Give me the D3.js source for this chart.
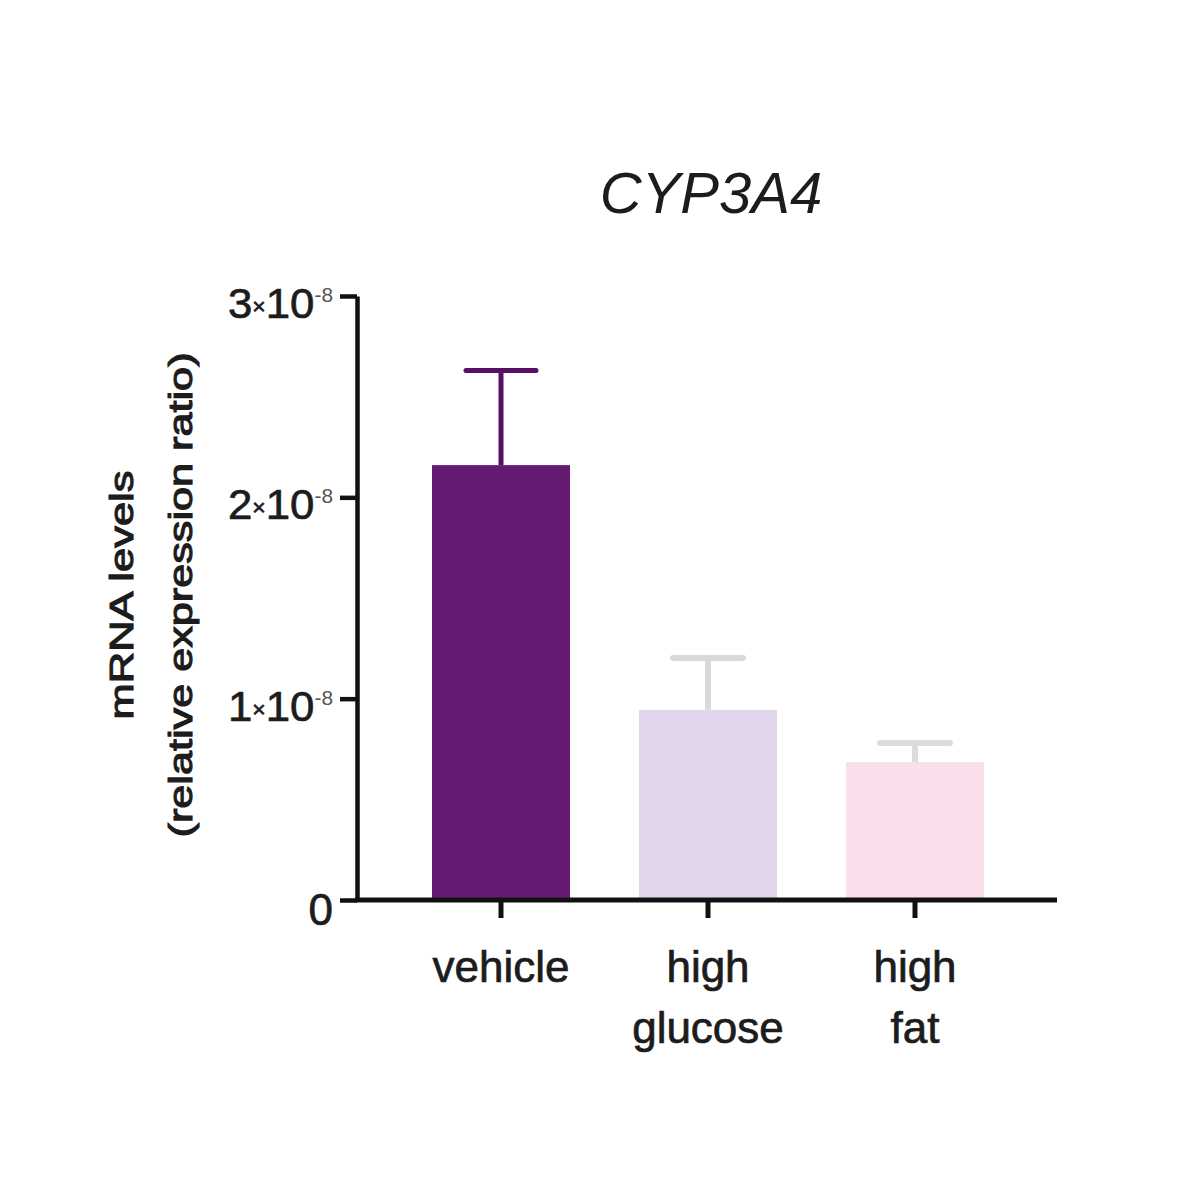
<!DOCTYPE html>
<html>
<head>
<meta charset="utf-8">
<script src="https://cdn.jsdelivr.net/npm/d3@7"></script>
<style>
  html, body { margin: 0; padding: 0; background: #fff; }
  svg { display: block; }
  text { font-family: "Liberation Sans", Arial, sans-serif; fill: #1c1c1c; }
</style>
</head>
<body>
<svg id="chart" width="1200" height="1200"></svg>
<script>
// ---- data ----
const categories = ["vehicle", "high glucose", "high fat"];
const labelLines = [["vehicle"], ["high", "glucose"], ["high", "fat"]];
const means = [2.16e-8, 0.944e-8, 0.685e-8];
const sems = [0.47e-8, 0.258e-8, 0.095e-8];
const barColors = ["#661b73", "#e1d6ec", "#fbdeeb"];
const errColors = ["#561066", "#d9d9d9", "#dcdcdc"];
const yTicks = [0, 1e-8, 2e-8, 3e-8];
const yTickMantissa = ["0", "1", "2", "3"];
const title = "CYP3A4";
const yTitle = ["mRNA levels", "(relative expression ratio)"];

// ---- layout ----
const svg = d3.select("#chart");
const axisLeft = 357, axisRight = 1057, axisTop = 296, axisBottom = 900;

const y = d3.scaleLinear().domain([0, 3e-8]).range([axisBottom, axisTop]);
const x = d3.scaleBand().domain(categories).range([397.5, 1018.5])
  .paddingInner(1/3).paddingOuter(1/6);

// bars
svg.append("g").selectAll("rect").data(categories).join("rect")
  .attr("x", d => x(d))
  .attr("width", x.bandwidth())
  .attr("y", (d, i) => y(means[i]))
  .attr("height", (d, i) => y(0) - y(means[i]))
  .attr("fill", (d, i) => barColors[i]);

// error bars
const eb = svg.append("g");
categories.forEach((c, i) => {
  const cx = x(c) + x.bandwidth() / 2;
  const top = y(means[i] + sems[i]);
  eb.append("line").attr("x1", cx).attr("x2", cx)
    .attr("y1", y(means[i])).attr("y2", top)
    .attr("stroke", errColors[i]).attr("stroke-width", i === 0 ? 5 : 6);
  eb.append("line").attr("x1", cx - 35).attr("x2", cx + 35)
    .attr("y1", top).attr("y2", top)
    .attr("stroke", errColors[i]).attr("stroke-width", i === 0 ? 5 : 6)
    .attr("stroke-linecap", "round");
});

// y axis
const yAxis = d3.axisLeft(y).tickValues(yTicks).tickSize(17).tickSizeOuter(0).tickFormat("");
const gy = svg.append("g").attr("transform", `translate(${axisLeft},0)`).call(yAxis);
gy.select(".domain").attr("stroke", "#111").attr("stroke-width", 4.5);
gy.selectAll(".tick line").attr("stroke", "#111").attr("stroke-width", 4.5);

// y tick labels
yTicks.forEach((v, i) => {
  const t = svg.append("text")
    .attr("x", 333).attr("y", y(v) + 22)
    .attr("text-anchor", "end")
    .attr("stroke", "#1c1c1c").attr("stroke-width", 0.7);
  if (v === 0) {
    t.attr("font-size", 44).text(yTickMantissa[i]).attr("y", y(v) + 25);
  } else {
    t.attr("font-size", 42);
    t.append("tspan").text(yTickMantissa[i]);
    t.append("tspan").attr("font-size", 22).attr("dy", -4).text("×");
    t.append("tspan").attr("dy", 4).text("10");
    t.append("tspan").attr("font-size", 20).attr("dy", -16).attr("fill", "#555").attr("stroke", "none").text("-8");
    t.attr("textLength", 105).attr("lengthAdjust", "spacingAndGlyphs");
  }
});

// x axis
const xAxis = d3.axisBottom(x).tickSize(18).tickSizeOuter(0).tickFormat("");
const gx = svg.append("g").attr("transform", `translate(0,${axisBottom})`).call(xAxis);
gx.select(".domain").remove();
gx.append("line").attr("x1", axisLeft - 2).attr("x2", axisRight).attr("y1", 0).attr("y2", 0)
  .attr("stroke", "#111").attr("stroke-width", 5);
gx.selectAll(".tick line").attr("stroke", "#111").attr("stroke-width", 5);

// x labels
categories.forEach((c, i) => {
  const cx = x(c) + x.bandwidth() / 2;
  labelLines[i].forEach((ln, j) => {
    svg.append("text").attr("x", cx).attr("y", 982 + j * 61)
      .attr("text-anchor", "middle").attr("font-size", 44)
      .attr("stroke", "#1c1c1c").attr("stroke-width", 0.7).text(ln);
  });
});

// title
svg.append("text").attr("x", 711).attr("y", 213)
  .attr("text-anchor", "middle").attr("font-size", 58)
  .attr("font-style", "italic").text(title);

// y axis title
const yCenter = 595;
const ytLens = [249, 485];
const ytX = [133, 192];
yTitle.forEach((ln, j) => {
  svg.append("text")
    .attr("transform", `translate(${ytX[j]},${yCenter}) rotate(-90)`)
    .attr("text-anchor", "middle").attr("font-size", 34)
    .attr("stroke", "#1c1c1c").attr("stroke-width", 1.1)
    .attr("textLength", ytLens[j]).attr("lengthAdjust", "spacingAndGlyphs")
    .text(ln);
});
</script>
</body>
</html>
